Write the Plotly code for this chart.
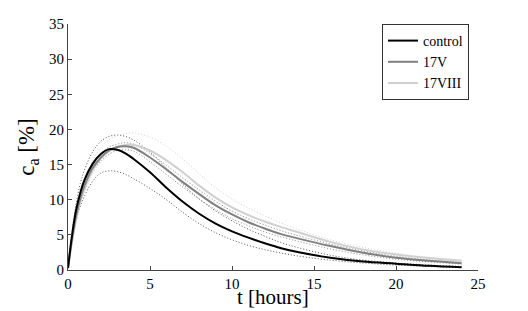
import plotly.graph_objects as go

# time points (hours)
t = [0, 0.25, 0.5, 0.75, 1, 1.5, 2, 2.5, 3, 3.5, 4, 5, 6, 7, 8, 9, 10, 11, 12, 13, 14, 16, 18, 20, 22, 24]

control = [0.3, 5.0, 8.6, 11.0, 12.8, 15.1, 16.5, 17.2, 17.1, 16.6, 15.8, 13.9, 11.7, 9.7, 8.0, 6.6, 5.5, 4.6, 3.8, 3.1, 2.55, 1.75, 1.2, 0.9, 0.6, 0.4]
v17V = [0.3, 4.5, 7.8, 10.2, 12.0, 14.5, 16.0, 17.0, 17.5, 17.6, 17.4, 16.0, 14.3, 12.5, 10.8, 9.2, 7.9, 6.8, 5.9, 5.1, 4.5, 3.4, 2.45, 1.75, 1.3, 0.95]
v17VIII = [0.2, 4.0, 7.2, 9.7, 11.5, 14.2, 15.9, 16.9, 17.5, 17.8, 17.8, 17.0, 15.6, 13.9, 12.0, 10.3, 8.9, 7.8, 6.9, 6.1, 5.4, 4.0, 2.9, 2.2, 1.7, 1.3]

control_hi = [0.4, 5.5, 9.5, 12.3, 14.2, 16.8, 18.3, 19.0, 19.2, 19.0, 18.5, 16.8, 14.5, 12.2, 10.1, 8.4, 7.0, 5.8, 4.8, 3.9, 3.2, 2.1, 1.4, 1.0, 0.7, 0.5]
control_lo = [0.2, 4.0, 7.0, 9.0, 10.5, 12.6, 13.8, 14.1, 14.0, 13.6, 13.0, 11.6, 10.0, 8.2, 6.6, 5.3, 4.3, 3.5, 2.9, 2.4, 2.0, 1.4, 1.0, 0.7, 0.5, 0.35]
v17V_hi = [0.3, 4.8, 8.2, 10.7, 12.5, 15.0, 16.6, 17.5, 17.9, 18.1, 17.9, 16.6, 14.9, 13.1, 11.4, 9.8, 8.4, 7.3, 6.4, 5.6, 4.9, 3.7, 2.7, 1.95, 1.45, 1.05]
v17V_lo = [0.3, 4.2, 7.4, 9.8, 11.6, 14.1, 15.5, 16.5, 17.0, 17.1, 16.9, 15.4, 13.6, 11.8, 10.1, 8.6, 7.3, 6.3, 5.4, 4.7, 4.1, 3.0, 2.15, 1.55, 1.15, 0.85]
v17VIII_hi = [0.2, 4.2, 7.6, 10.3, 12.4, 15.5, 17.4, 18.5, 19.1, 19.4, 19.5, 18.9, 17.6, 15.8, 13.7, 11.7, 10.1, 8.8, 7.7, 6.7, 5.8, 4.3, 3.2, 2.4, 1.8, 1.4]
v17VIII_lo = [0.2, 3.8, 6.9, 9.3, 11.0, 13.7, 15.4, 16.4, 17.0, 17.3, 17.3, 16.4, 14.9, 13.1, 11.2, 9.6, 8.3, 7.2, 6.4, 5.6, 4.9, 3.6, 2.6, 1.95, 1.5, 1.15]

series_names = ["control", "17V", "17VIII"]
x_ticks = [0, 5, 10, 15, 20, 25]
y_ticks = [0, 5, 10, 15, 20, 25, 30, 35]

BLACK = "#000000"
GRAY = "#808080"
LIGHT = "#d0d0d0"
FONT = "Liberation Serif, DejaVu Serif, serif"

fig = go.Figure()

# dotted bound curves
for ys, col in [(control_hi, "#555555"), (control_lo, "#555555"),
                (v17V_hi, "#8a8a8a"), (v17V_lo, "#8a8a8a"),
                (v17VIII_hi, "#d2d2d2"), (v17VIII_lo, "#d2d2d2")]:
    fig.add_trace(go.Scatter(x=t, y=ys, mode="lines", showlegend=False,
                             line=dict(color=col, width=1, dash="1px,2px", shape="spline")))

# main curves (light first so black stays on top)
for ys, col, name in [(v17VIII, LIGHT, series_names[2]), (v17V, GRAY, series_names[1]),
                      (control, BLACK, series_names[0])]:
    fig.add_trace(go.Scatter(x=t, y=ys, mode="lines", name=name,
                             line=dict(color=col, width=2, shape="spline")))

# page body has an 8px margin, so the figure is drawn 8px in from the top-left
fig.update_layout(
    width=520, height=303,
    margin=dict(l=60, r=50, t=16, b=41),
    paper_bgcolor="white", plot_bgcolor="white",
    font=dict(family=FONT, size=15, color="black"),
    legend=dict(x=0.978, y=1.0, xanchor="right", yanchor="top",
                traceorder="reversed",
                bordercolor="#333333", borderwidth=1, bgcolor="white",
                font=dict(family=FONT, size=14), itemwidth=30,
                tracegroupgap=0),
    showlegend=True,
    annotations=[
        dict(text="t [hours]", xref="paper", yref="paper", x=0.5, y=-0.110,
             xanchor="center", yanchor="middle", showarrow=False,
             font=dict(family=FONT, size=21)),
        dict(text="c<sub>a</sub> [%]", xref="paper", yref="paper", x=-0.098, y=0.5,
             xanchor="center", yanchor="middle", showarrow=False, textangle=-90,
             font=dict(family=FONT, size=23)),
    ],
)
fig.update_xaxes(range=[0, 25], tickvals=x_ticks, ticks="inside", ticklen=4,
                 tickcolor="#444444", showline=True, linecolor="#444444", linewidth=1,
                 showgrid=False, zeroline=False, automargin=False)
fig.update_yaxes(range=[0, 35], tickvals=y_ticks, ticks="inside", ticklen=4,
                 tickcolor="#444444", showline=True, linecolor="#444444", linewidth=1,
                 showgrid=False, zeroline=False, automargin=False)

fig.write_html("out.html")
